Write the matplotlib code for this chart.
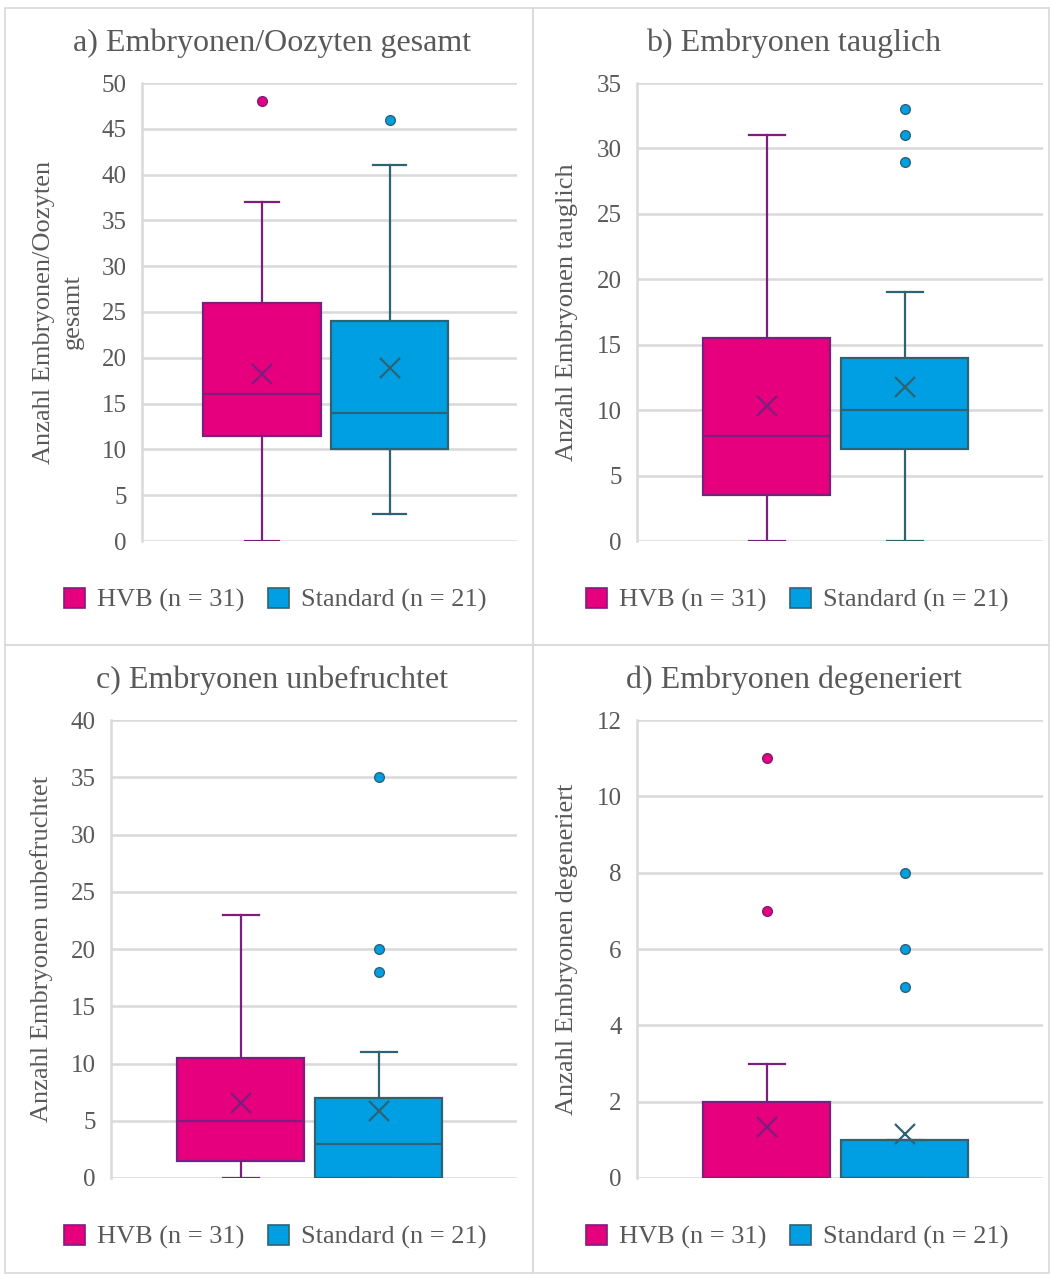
import matplotlib.pyplot as plt
from matplotlib.patches import Rectangle, Patch

plt.rcParams['font.family'] = ['Liberation Serif', 'DejaVu Serif']

groups = ['HVB (n = 31)', 'Standard (n = 21)']
titles = ['a) Embryonen/Oozyten gesamt', 'b) Embryonen tauglich',
          'c) Embryonen unbefruchtet', 'd) Embryonen degeneriert']
ylabels = ['Anzahl Embryonen/Oozyten\ngesamt', 'Anzahl Embryonen tauglich',
           'Anzahl Embryonen unbefruchtet', 'Anzahl Embryonen degeneriert']
ymax = [50, 35, 40, 12]
ystep = [5, 5, 5, 2]

# [whislo, q1, med, q3, whishi, mean]
hvb_stats = [[0, 11.5, 16, 26, 37, 18.2],
             [0, 3.5, 8, 15.5, 31, 10.3],
             [0, 1.5, 5, 10.5, 23, 6.55],
             [0, 0, 0, 2, 3, 1.34]]
std_stats = [[3, 10, 14, 24, 41, 18.9],
             [0, 7, 10, 14, 19, 11.8],
             [0, 0, 3, 7, 11, 5.85],
             [0, 0, 0, 1, 1, 1.15]]
hvb_fliers = [[48], [], [], [7, 11]]
std_fliers = [[46], [29, 31, 33], [18, 20, 35], [5, 6, 8]]

fills = ['#E6007E', '#009FE3']
edges = ['#7D1E7E', '#2F6373']
text_col = '#595959'
grid_col = '#D9D9D9'

fig = plt.figure(figsize=(10.51, 12.75), dpi=100)

axes_pos = [[142, 83, 517, 541], [637, 83, 1043, 541],
            [111, 720, 517, 1178], [637, 720, 1043, 1178]]
panels = [[5, 8, 533, 645], [533, 8, 1049, 645],
          [5, 645, 533, 1273], [533, 645, 1049, 1273]]
label_x = [84, 578, 53, 578]  # ylabel right edge, px
W, H = 1051, 1275

for i in range(4):
    x0, y0, x1, y1 = axes_pos[i]
    ax = fig.add_axes([x0 / W, 1 - y1 / H, (x1 - x0) / W, (y1 - y0) / H])
    stats = []
    for s, fl in ((hvb_stats[i], hvb_fliers[i]), (std_stats[i], std_fliers[i])):
        stats.append(dict(whislo=s[0], q1=s[1], med=s[2], q3=s[3],
                          whishi=s[4], mean=s[5], fliers=fl))
    for j in range(2):
        ax.bxp([stats[j]], positions=[[0.32, 0.66][j]], widths=0.313,
               capwidths=0.09, showmeans=True, patch_artist=True,
               boxprops=dict(facecolor=fills[j], edgecolor=edges[j], linewidth=1.6),
               medianprops=dict(color=edges[j], linewidth=1.6),
               whiskerprops=dict(color=edges[j], linewidth=1.6),
               capprops=dict(color=edges[j], linewidth=1.6),
               meanprops=dict(marker='x', markeredgecolor=edges[j], markersize=15,
                              markeredgewidth=1.6),
               flierprops=dict(marker='o', markerfacecolor=fills[j],
                               markeredgecolor=edges[j], markersize=7,
                               markeredgewidth=1.0),
               zorder=3)
    ax.set_xlim(0, 1)
    ax.set_ylim(0, ymax[i])
    ax.set_yticks(range(0, ymax[i] + 1, ystep[i]))
    ax.set_xticks([])
    ax.yaxis.grid(True, color=grid_col, linewidth=1.8)
    ax.set_axisbelow(True)
    for sp in ['top', 'right', 'bottom']:
        ax.spines[sp].set_visible(False)
    ax.spines['left'].set_color(grid_col)
    ax.spines['left'].set_linewidth(1.8)
    ax.tick_params(axis='y', length=0, labelsize=18, labelcolor=text_col, pad=11)
    ax.set_ylabel(ylabels[i], fontsize=19, color=text_col, linespacing=1.4)
    ax.yaxis.set_label_coords((label_x[i] - x0) / (x1 - x0), 0.5)
    ax.set_clip_on(False)

    px0, py0, px1, py1 = panels[i]
    fig.add_artist(Rectangle((px0 / W, 1 - py1 / H), (px1 - px0) / W,
                             (py1 - py0) / H, transform=fig.transFigure,
                             fill=False, edgecolor=grid_col, linewidth=1.2))
    cx = (px0 + px1) / 2 / W
    fig.text(cx + 3 / W, 1 - (py0 + 35) / H, titles[i], ha='center', va='center',
             fontsize=23, color=text_col)
    handles = [Patch(facecolor=fills[k], edgecolor=edges[k], linewidth=1.2,
                     label=groups[k]) for k in range(2)]
    fig.legend(handles=handles, loc='center', ncol=2, frameon=False,
               bbox_to_anchor=(cx + 6 / W, 1 - (py0 + 592) / H), fontsize=19,
               labelcolor=text_col, handlelength=0.8, handleheight=0.8,
               handletextpad=0.45, columnspacing=0.9)

fig.savefig('out.png', dpi=100)
